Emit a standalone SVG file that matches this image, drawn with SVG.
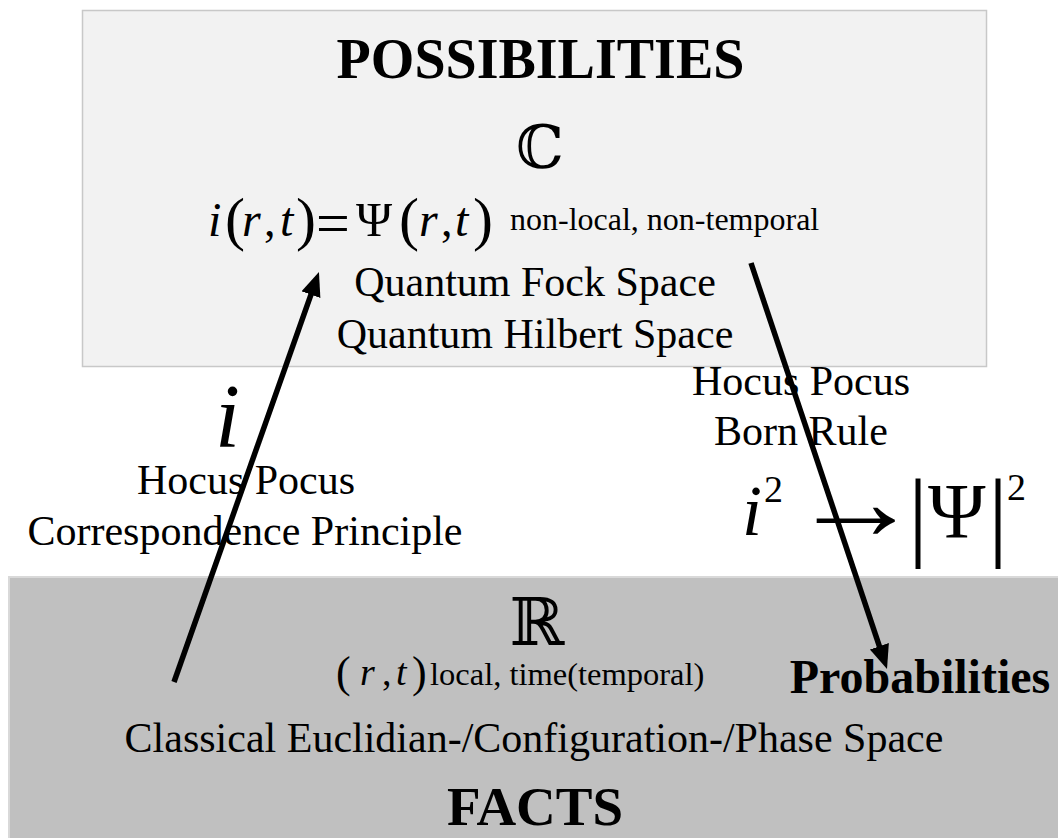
<svg xmlns="http://www.w3.org/2000/svg" width="1058" height="838" viewBox="0 0 1058 838">
<defs>
<style>
.t{font-family:"Liberation Serif","Times New Roman",serif;fill:#000}
.b{font-weight:bold}
.it{font-style:italic}
.ds{font-family:"DejaVu Serif","DejaVu Sans",serif;fill:#000}
.mid{text-anchor:middle}
.conn{stroke:#000;stroke-width:5.5;fill:none}
</style>
<marker id="ah" markerUnits="userSpaceOnUse" markerWidth="26" markerHeight="22" refX="12" refY="10" orient="auto" viewBox="0 0 26 22">
<path d="M0,0 L24,10 L0,20 z" fill="#000"/>
</marker>
</defs>
<rect width="1058" height="838" fill="#fff"/>
<g id="possibilities">
<rect x="82.5" y="10.5" width="904" height="356" fill="#f2f2f2" stroke="#c8c8c8" stroke-width="1.5"/>
<text class="t b mid" x="540.5" y="78" font-size="56">POSSIBILITIES</text>
<text class="ds mid" x="540" y="168" font-size="60">ℂ</text>
<g id="eq-top" class="t">
<text class="it" x="208" y="236" font-size="48">i</text>
<text x="225" y="239" font-size="60">(</text>
<text class="it" x="242" y="236" font-size="48">r</text>
<text x="264" y="236" font-size="46">,</text>
<text class="it" x="280" y="236" font-size="48">t</text>
<text x="296" y="239" font-size="60">)</text>
<text x="316" y="243" font-size="60">=</text>
<text x="356" y="236" font-size="49">Ψ</text>
<text x="399" y="239" font-size="60">(</text>
<text class="it" x="419" y="236" font-size="48">r</text>
<text x="441" y="236" font-size="46">,</text>
<text class="it" x="455" y="236" font-size="48">t</text>
<text x="473" y="239" font-size="60">)</text>
</g>
<text class="t" x="510" y="230" font-size="32">non-local, non-temporal</text>
<text class="t mid" x="535" y="296" font-size="42">Quantum Fock Space</text>
<text class="t mid" x="535" y="348" font-size="42">Quantum Hilbert Space</text>
</g>
<g id="facts">
<rect x="9" y="577" width="1060" height="270" fill="#c0c0c0" stroke="#d9d9d9" stroke-width="2"/>
<text class="ds mid" x="537" y="645" font-size="66">ℝ</text>
<g id="eq-bottom" class="t">
<text x="336" y="687" font-size="44">(</text>
<text class="it" x="360" y="685" font-size="38">r</text>
<text x="382" y="685" font-size="38">,</text>
<text class="it" x="396" y="685" font-size="38">t</text>
<text x="412" y="687" font-size="44">)</text>
</g>
<text class="t" x="430" y="685" font-size="32.5">local, time(temporal)</text>
<text class="t mid" x="534" y="752" font-size="42">Classical Euclidian-/Configuration-/Phase Space</text>
<text class="t b mid" x="535" y="825" font-size="55">FACTS</text>
</g>
<g id="probabilities">
<text class="t b mid" x="920" y="693" font-size="48">Probabilities</text>
</g>
<g id="correspondence">
<text class="t it" x="215" y="447" font-size="90">i</text>
<text class="t mid" x="246" y="494" font-size="42">Hocus Pocus</text>
<text class="t mid" x="245" y="545" font-size="42">Correspondence Principle</text>
</g>
<g id="born-rule">
<text class="t mid" x="801" y="395" font-size="42">Hocus Pocus</text>
<text class="t mid" x="801" y="445" font-size="42">Born Rule</text>
<g id="eq-born" class="t">
<text class="it" x="742" y="535" font-size="72">i</text>
<text x="764" y="502" font-size="38">2</text>
<text transform="translate(790,539) scale(1.2,1)" font-size="110">→</text>
<text x="908" y="548" font-size="100">|</text>
<text x="928" y="537" font-size="78">Ψ</text>
<text x="988" y="548" font-size="100">|</text>
<text x="1007" y="500" font-size="38">2</text>
</g>
</g>
<g id="connectors">
<line class="conn" x1="174" y1="682" x2="314.95" y2="283.3" marker-end="url(#ah)"/>
<line class="conn" x1="751" y1="263" x2="883.2" y2="657.6" marker-end="url(#ah)"/>
</g>
</svg>
